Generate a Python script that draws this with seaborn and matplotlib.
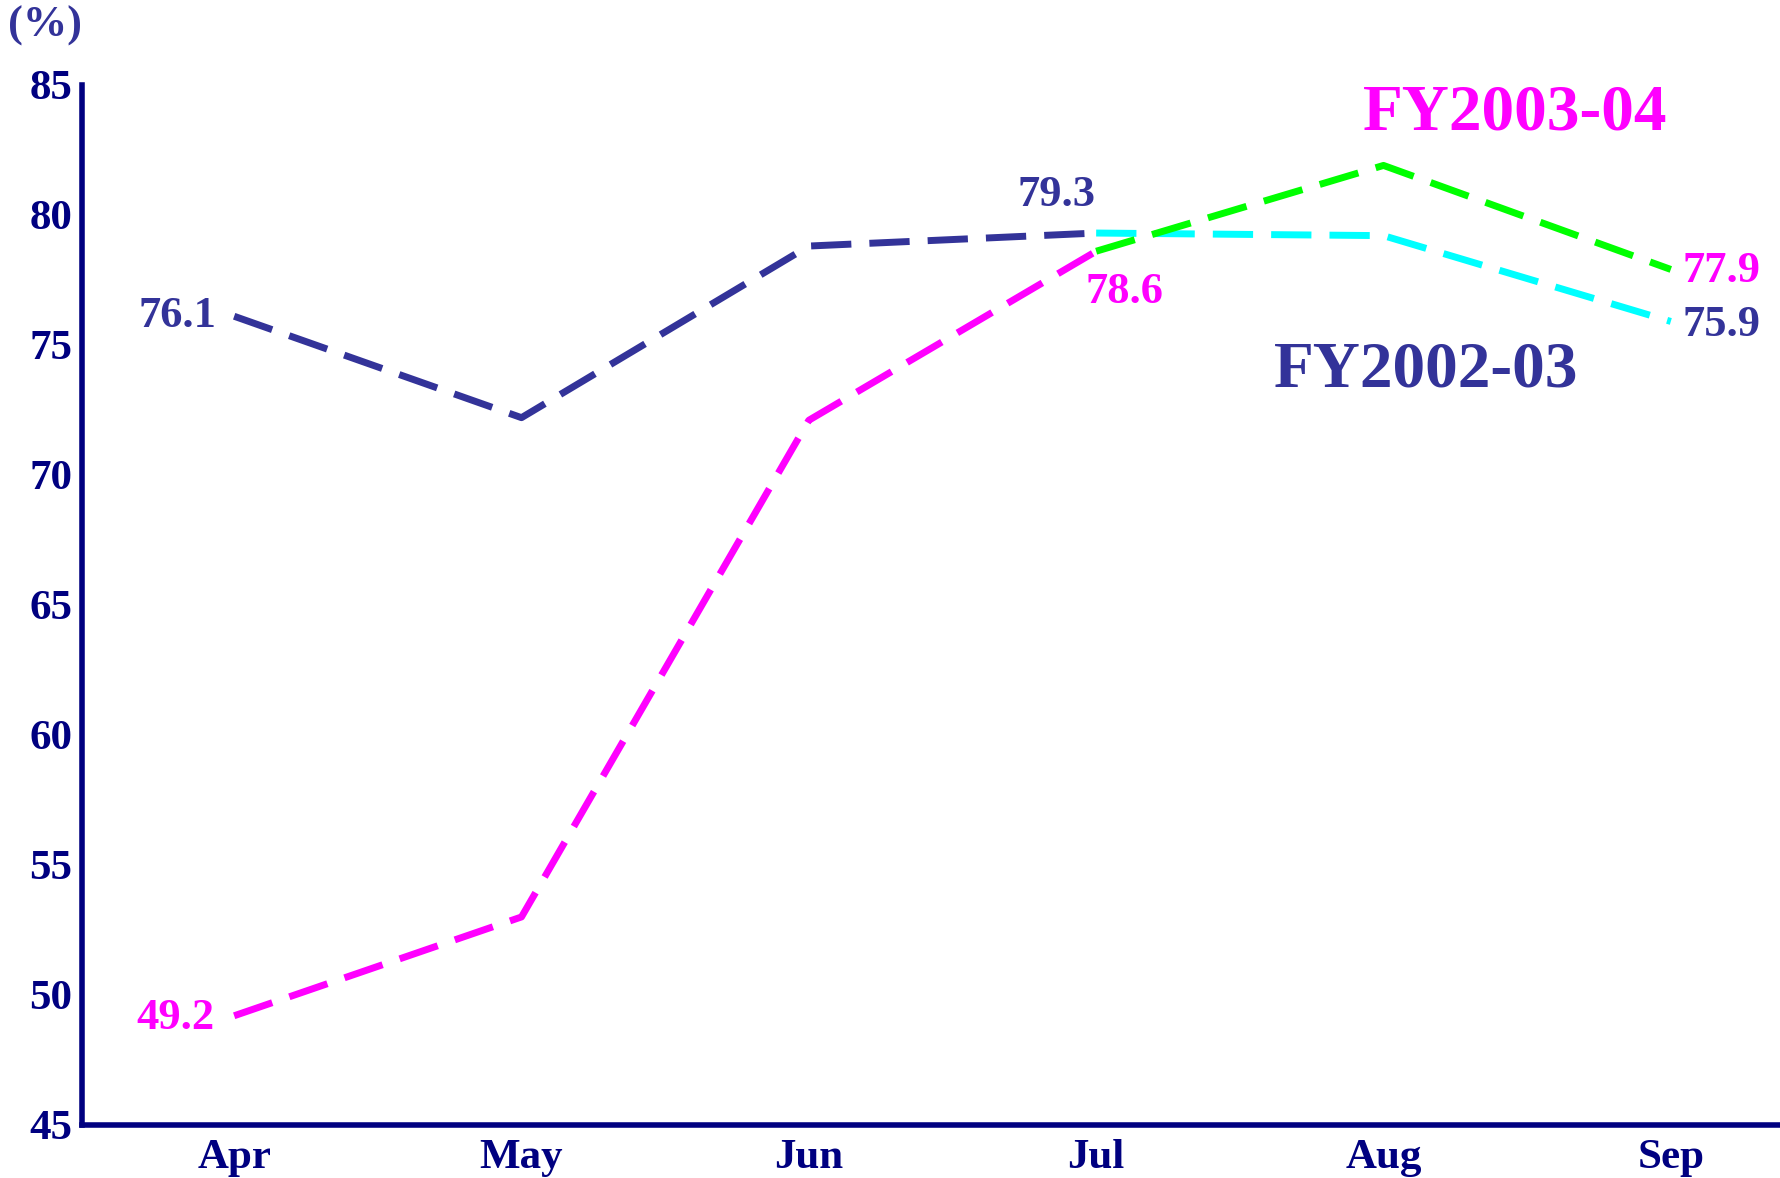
import pandas as pd
import matplotlib
matplotlib.use("Agg")
import matplotlib.pyplot as plt
import seaborn as sns

# data
months = ["Apr", "May", "Jun", "Jul", "Aug", "Sep"]
fy0203 = [76.1, 72.2, 78.8, 79.3, 79.2, 75.9]
fy0304 = [49.2, 53.0, 72.1, 78.6, 81.9, 77.9]
split = 3  # Jul: colour changes after this month

navy = "#333399"
tick_navy = "#000080"
magenta = "#FF00FF"
cyan = "#00FFFF"
green = "#00FF00"

sns.set_theme(style="white")
plt.rcParams["font.family"] = ["Liberation Serif", "DejaVu Serif"]
plt.rcParams["font.weight"] = "bold"

# build long-form frame: each series is split in two coloured segments
rows = []
for name, vals, c1, c2 in [("FY2002-03", fy0203, "a", "b"), ("FY2003-04", fy0304, "c", "d")]:
    for i, v in enumerate(vals):
        if i <= split:
            rows.append({"x": i, "value": v, "seg": name + c1})
        if i >= split:
            rows.append({"x": i, "value": v, "seg": name + c2})
df = pd.DataFrame(rows)

seg_order = ["FY2002-03a", "FY2002-03b", "FY2003-04c", "FY2003-04d"]
palette = {"FY2002-03a": navy, "FY2002-03b": cyan,
           "FY2003-04c": magenta, "FY2003-04d": green}
dash = (5.8, 2.6)

fig = plt.figure(figsize=(17.8, 11.78), dpi=100)
ax = fig.add_axes([0.046, 0.045, 0.954, 0.883])

sns.lineplot(data=df, x="x", y="value", hue="seg", style="seg",
             hue_order=seg_order, style_order=seg_order, palette=palette,
             dashes={s: dash for s in seg_order}, linewidth=5,
             sort=False, legend=False, ax=ax)

ax.set_xlim(-0.53, 5.38)
ax.set_ylim(45, 85)
ax.set_xticks(range(len(months)))
ax.set_xticklabels(months)
ax.set_yticks(range(45, 86, 5))
ax.set_xlabel("")
ax.set_ylabel("")
ax.tick_params(axis="both", length=0, labelsize=31, labelcolor=tick_navy)
ax.tick_params(axis="y", pad=7)
ax.tick_params(axis="x", pad=10)
for lab in ax.get_xticklabels() + ax.get_yticklabels():
    lab.set_fontweight("bold")

for side in ["top", "right"]:
    ax.spines[side].set_visible(False)
for side in ["left", "bottom"]:
    ax.spines[side].set_color(tick_navy)
    ax.spines[side].set_linewidth(4)
ax.grid(False)

lab_kw = dict(textcoords="offset pixels", fontsize=32, fontweight="bold")
# FY2002-03 labels
ax.annotate(f"{fy0203[0]}", (0, fy0203[0]), xytext=(-18, 0), ha="right", va="center",
            color=navy, **lab_kw)
ax.annotate(f"{fy0203[3]}", (3, fy0203[3]), xytext=(-40, 38), ha="center", va="center",
            color=navy, **lab_kw)
ax.annotate(f"{fy0203[5]}", (5, fy0203[5]), xytext=(12, -4), ha="left", va="center",
            color=navy, **lab_kw)
# FY2003-04 labels
ax.annotate(f"{fy0304[0]}", (0, fy0304[0]), xytext=(-20, -2), ha="right", va="center",
            color=magenta, **lab_kw)
ax.annotate(f"{fy0304[3]}", (3, fy0304[3]), xytext=(28, -41), ha="center", va="center",
            color=magenta, **lab_kw)
ax.annotate(f"{fy0304[5]}", (5, fy0304[5]), xytext=(12, -2), ha="left", va="center",
            color=magenta, **lab_kw)

# series names
ax.text(4.46, 83.9, "FY2003-04", color=magenta, fontsize=47, fontweight="bold",
        ha="center", va="center")
ax.text(4.15, 74.0, "FY2002-03", color=navy, fontsize=47, fontweight="bold",
        ha="center", va="center")

fig.text(0.025, 0.978, "(%)", color=navy, fontsize=32, fontweight="bold",
         ha="center", va="center")

fig.savefig("out.png", dpi=100)
